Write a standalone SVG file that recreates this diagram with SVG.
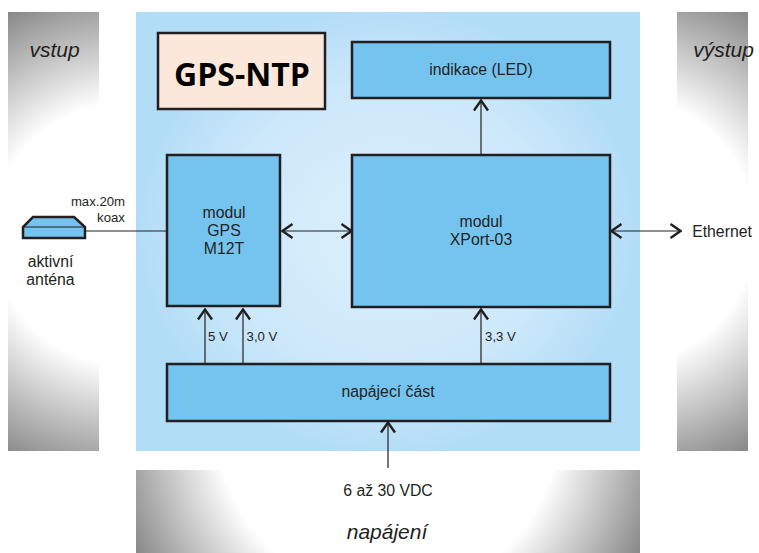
<svg xmlns="http://www.w3.org/2000/svg" width="759" height="553" viewBox="0 0 759 553">
<style>
text{font-family:"Liberation Sans",Arial,sans-serif;fill:#231f20;font-size:15.800px;text-anchor:middle}
.box{fill:#75c4f0;stroke:#231f20;stroke-width:2.500}
.i{font-style:italic;font-size:21px}
.s{font-size:13.200px}
.c{fill:none;stroke:#231f20;stroke-width:1.200}
</style>
<defs>
<radialGradient id="gb" gradientUnits="userSpaceOnUse" cx="388" cy="231" r="1" gradientTransform="translate(388 231) scale(252 225) translate(-388 -231)">
<stop offset="0" stop-color="#dcf0fc"/><stop offset="0.65" stop-color="#cde8fa"/><stop offset="1" stop-color="#b2ddf7"/>
</radialGradient>
<radialGradient id="gl" gradientUnits="userSpaceOnUse" cx="124" cy="234" r="250"><stop offset="0.52" stop-color="#fff"/><stop offset="1" stop-color="#888"/></radialGradient>
<radialGradient id="gr" gradientUnits="userSpaceOnUse" cx="621" cy="231" r="254"><stop offset="0.524" stop-color="#fff"/><stop offset="1" stop-color="#888"/></radialGradient>
<radialGradient id="gn" gradientUnits="userSpaceOnUse" cx="388" cy="425" r="283"><stop offset="0.6" stop-color="#fff"/><stop offset="1" stop-color="#888"/></radialGradient>
<marker id="a" viewBox="0 0 13 16" refX="12" refY="8" markerWidth="13" markerHeight="16" markerUnits="userSpaceOnUse" orient="auto-start-reverse">
<path d="M1.500 1 L11.500 8 L1.500 15" fill="none" stroke="#231f20" stroke-width="2.400"/>
</marker>
</defs>
<g id="panels">
<rect x="8" y="12" width="91" height="439" fill="url(#gl)"/>
<rect x="677" y="12" width="71" height="439" fill="url(#gr)"/>
<rect x="136" y="470" width="504" height="83" fill="url(#gn)"/>
<rect x="136" y="12" width="504" height="439" fill="url(#gb)"/>
<text class="i" x="54.500" y="57">vstup</text>
<text class="i" x="723.500" y="57">výstup</text>
<text class="i" x="387" y="539">napájení</text>
</g>
<g id="connectors">
<path class="c" d="M85 231H166"/>
<path class="c" d="M282 231H352" marker-start="url(#a)" marker-end="url(#a)"/>
<path class="c" d="M205 364V309" marker-end="url(#a)"/>
<path class="c" d="M243 364V309" marker-end="url(#a)"/>
<path class="c" d="M481 364V309" marker-end="url(#a)"/>
<path class="c" d="M481 155V100" marker-end="url(#a)"/>
<path class="c" d="M388 468V422" marker-end="url(#a)"/>
<path class="c" d="M611 231H681" marker-start="url(#a)" marker-end="url(#a)"/>
<text class="s" x="98" y="206">max.20m</text>
<text class="s" x="111" y="222">koax</text>
<text class="s" x="218" y="341">5 V</text>
<text class="s" x="262" y="341">3,0 V</text>
<text class="s" x="500.500" y="341">3,3 V</text>
<text x="388" y="496">6 až 30 VDC</text>
<text x="722" y="237">Ethernet</text>
</g>
<g id="title"><rect x="158" y="33" width="167" height="76" fill="#fce8da" stroke="#231f20" stroke-width="2.500"/>
<text x="242" y="86" style="font-family:'Open Sans','Noto Sans',sans-serif;font-weight:700;font-size:32px;fill:#000">GPS-NTP</text></g>
<g id="led"><rect class="box" x="352" y="42" width="258" height="56"/><text x="481" y="75">indikace (LED)</text></g>
<g id="gps"><rect class="box" x="167" y="155" width="113" height="151"/><text x="224" y="218">modul</text><text x="224" y="236">GPS</text><text x="224" y="254">M12T</text></g>
<g id="xport"><rect class="box" x="352" y="155" width="258" height="152"/><text x="481" y="227">modul</text><text x="481" y="245">XPort-03</text></g>
<g id="power"><rect class="box" x="167" y="364" width="443" height="57"/><text x="388" y="397">napájecí část</text></g>
<g id="antenna"><path class="box" d="M33 217H74L85 227V238H23V227Z"/><path class="c" d="M23 227H85"/><text x="50.500" y="267">aktivní</text><text x="50.500" y="285">anténa</text></g>
</svg>
